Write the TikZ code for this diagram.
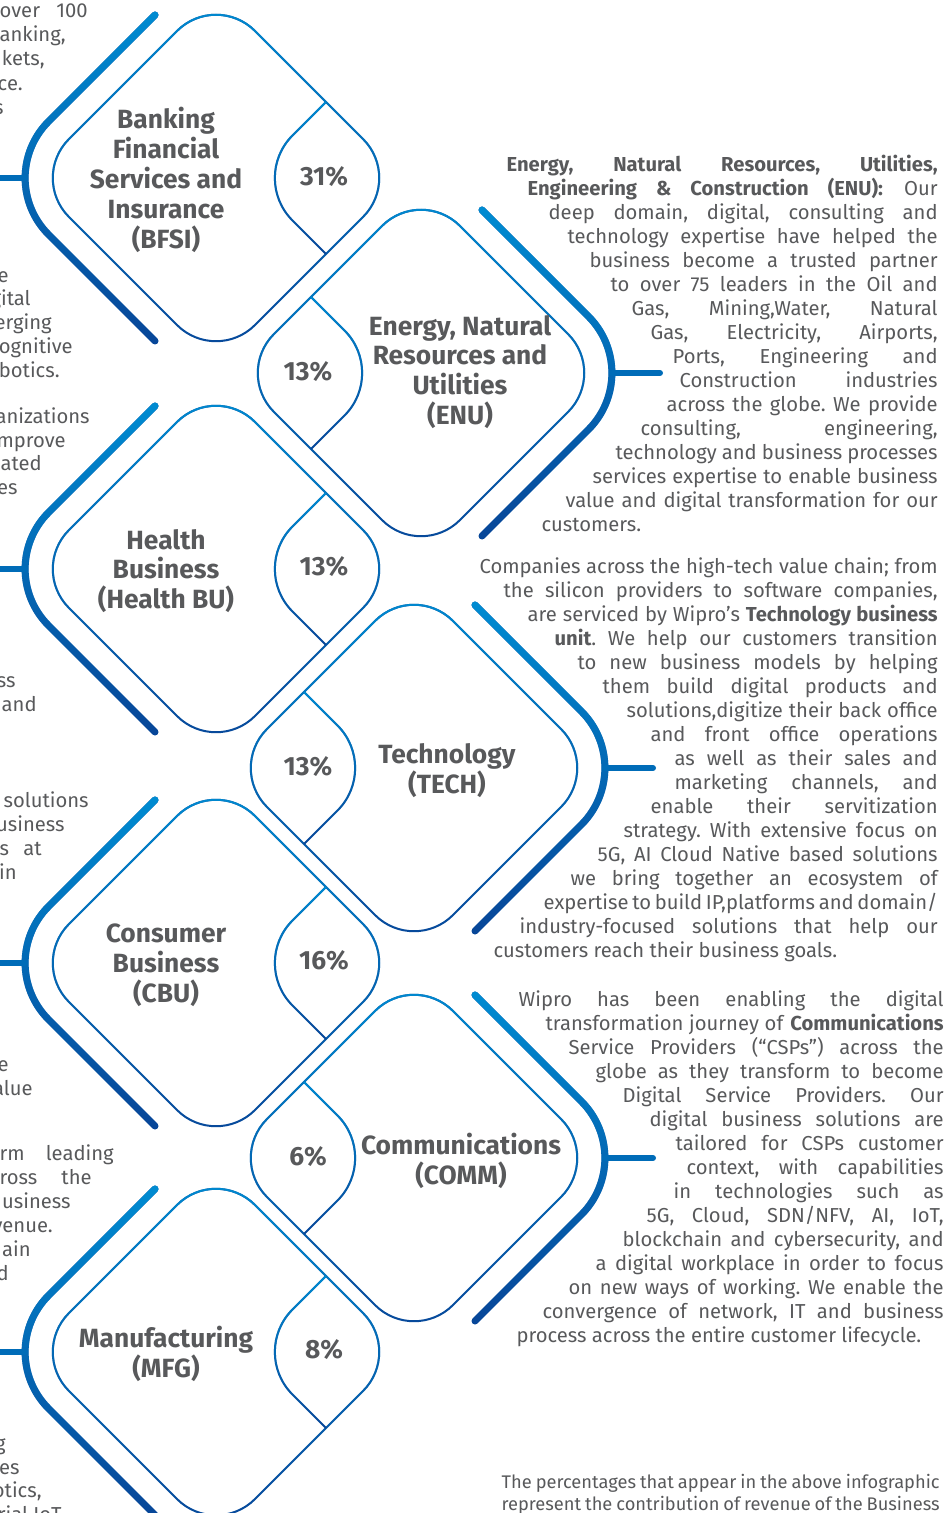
\documentclass[tikz,border=0pt]{standalone}
\usepackage{fontspec}
\setmainfont{Fira Sans}
\usetikzlibrary{fadings}
\definecolor{lt}{RGB}{0,140,210}
\definecolor{dk}{RGB}{8,70,152}
\definecolor{md}{RGB}{0,108,184}
\definecolor{txt}{RGB}{88,89,91}
\tikzfading[name=topdown, top color=transparent!0, bottom color=transparent!100]
\newlength\pxu \setlength\pxu{0.02cm}
\frenchspacing

\begin{document}
\begin{tikzpicture}[x=0.02cm,y=-0.02cm,
  blu/.style = {draw=dk, postaction={draw=lt, path fading=topdown}},
  diam/.style = {blu, line width=0.04cm, rounded corners=1.1cm},
  lens/.style = {blu, line width=0.04cm, rounded corners=1.2cm},
  brack/.style = {blu, line width=0.14cm, line cap=round, rounded corners=1.6cm},
  stub/.style = {draw=md, line width=0.12cm, line cap=round},
  unitname/.style = {text=txt, align=center, inner sep=0pt,
    font={\bfseries\fontsize{15pt}{17pt}\selectfont}},
  para/.style = {text=txt, inner sep=0pt, anchor=base east,
    font={\fontsize{11.5pt}{13.6pt}\selectfont}}]
   \useasboundingbox (0,0) rectangle (945,1513);
   \clip (0,0) rectangle (945,1513);
   % left column
   \foreach \cx/\cy in {216/178, 216/569, 216/963, 216/1352} {
     \draw[diam] (\cx-93,\cy-93) -- (\cx,\cy-186) -- (\cx+186,\cy)
                 -- (\cx,\cy+186) -- (\cx-186,\cy) -- cycle;
     \draw[lens] (\cx+110,\cy-76) -- (\cx+34,\cy) -- (\cx+110,\cy+76);
     \draw[brack] (\cx-61,\cy-163) -- (\cx-224,\cy) -- (\cx-61,\cy+163);
     \draw[stub] (\cx-191,\cy) -- (\cx-250,\cy);
   }
   % right column
   \foreach \cx/\cy in {421/373, 414/768, 414/1158} {
     \draw[diam] (\cx-93,\cy-93) -- (\cx,\cy-186) -- (\cx+186,\cy)
                 -- (\cx,\cy+186) -- (\cx-186,\cy) -- cycle;
     \draw[lens] (\cx-110,\cy-76) -- (\cx-34,\cy) -- (\cx-110,\cy+76);
     \draw[brack] (\cx+61,\cy-163) -- (\cx+224,\cy) -- (\cx+61,\cy+163);
     \draw[stub] (\cx+191,\cy) -- (\cx+239,\cy);
   }
   % unit names and shares
   \node[unitname] (bfsi) at (166,180) {Banking\\Financial\\Services and\\Insurance\\(BFSI)};
   \node[unitname] (enu) at (460,372) {Energy, Natural\\Resources and\\Utilities\\(ENU)};
   \node[unitname] (health) at (166,571) {Health\\Business\\(Health BU)};
   \node[unitname] (tech) at (447,771) {Technology\\(TECH)};
   \node[unitname] (cbu) at (166,965) {Consumer\\Business\\(CBU)};
   \node[unitname] (comm) at (461,1161) {Communications\\(COMM)};
   \node[unitname] (mfg) at (166,1354) {Manufacturing\\(MFG)};
   \node[unitname] (bfsipct) at (324,177) {31\%};
   \node[unitname] (enupct) at (308,372) {13\%};
   \node[unitname] (healthpct) at (324,567) {13\%};
   \node[unitname] (techpct) at (308,767) {13\%};
   \node[unitname] (cbupct) at (324,961) {16\%};
   \node[unitname] (commpct) at (308,1157) {6\%};
   \node[unitname] (mfgpct) at (324,1350) {8\%};
   % ENU text
   \foreach \bw/\words [count=\k] in {
     431/{\textbf{Energy, Natural Resources, Utilities,}},
     410/{\textbf{Engineering \& Construction (ENU):} Our},
     389/{deep domain, digital, consulting and},
     370/{technology expertise have helped the},
     348/{business become a trusted partner},
     327/{to over 75 leaders in the Oil and},
     306/{Gas, Mining,Water, Natural},
     287/{Gas, Electricity, Airports,},
     265/{Ports, Engineering and},
     258/{Construction industries},
     271/{across the globe. We provide},
     297/{consulting, engineering,},
     322/{technology and business processes},
     345/{services expertise to enable business},
     372/{value and digital transformation for our},
     396/{customers.\hfill}}
     \node[para] (enu\k) at (938,{171.5+24*(\k-1)}) {\makebox[\bw\pxu][s]{\words}};
   % TECH text
   \foreach \bw/\words [count=\k] in {
     458/{Companies across the high-tech value chain; from},
     434/{the silicon providers to software companies,},
     410/{are serviced by Wipro’s \textbf{Technology business}},
     383/{\textbf{unit}. We help our customers transition},
     360/{to new business models by helping},
     335/{them build digital products and},
     311/{solutions,digitize their back office},
     287/{and front office operations},
     263/{as well as their sales and},
     263/{marketing channels, and},
     287/{enable their servitization},
     314/{strategy. With extensive focus on},
     340/{5G, AI Cloud Native based solutions},
     367/{we bring together an ecosystem of},
     394/{expertise to build IP,platforms and domain/},
     418/{industry-focused solutions that help our},
     444/{customers reach their business goals.\hfill}}
     \node[para] (tech\k) at (938,{573.3+24*(\k-1)}) {\makebox[\bw\pxu][s]{\words}};
   % COMM text
   \foreach \bw/\words [count=\k] in {
     425/{Wipro has been enabling the digital},
     398/{transformation journey of \textbf{Communications}},
     375/{Service Providers (“CSPs”) across the},
     348/{globe as they transform to become},
     321/{Digital Service Providers. Our},
     294/{digital business solutions are},
     268/{tailored for CSPs customer},
     257/{context, with capabilities},
     270/{in technologies such as},
     297/{5G, Cloud, SDN/NFV, AI, IoT,},
     321/{blockchain and cybersecurity, and},
     348/{a digital workplace in order to focus},
     375/{on new ways of working. We enable the},
     401/{convergence of network, IT and business},
     427/{process across the entire customer lifecycle.\hfill}}
     \node[para] (comm\k) at (944,{1006.7+24*(\k-1)}) {\makebox[\bw\pxu][s]{\words}};
   % cut-off text on the left edge
   \foreach \r/\y/\words [count=\k] in {
     88/10/{\makebox[88\pxu][s]{over 100}}, 66/34/{anking,}, 45/58/{kets,},
     23/83/{ce.}, 4/107/{s}, 9/275/{e}, 31/298/{gital}, 52/322/{erging},
     73/346/{ognitive}, 60/370/{botics.}, 90/416/{anizations}, 66/440/{mprove},
     42/463/{cated}, 18/487/{es}, 16/680/{ss}, 37/704/{and},
     89/800/{solutions}, 65/824/{usiness}, 42/848/{\makebox[42\pxu][s]{s at}},
     17/872/{in}, 9/1064/{e}, 33/1088/{alue},
     114/1153/{\makebox[114\pxu][s]{rm leading}},
     92/1177/{\makebox[92\pxu][s]{ross the}}, 71/1201/{usiness},
     53/1225/{venue.}, 31/1249/{ain}, 9/1273/{d}, 6/1443/{g}, 20/1467/{es},
     42/1490/{otics,}, 62/1514/{rial IoT}}
     \node[para] (edge\k) at (\r,{\y+7.5}) {\words};
   % note
   \node[para, font={\fontsize{10.4pt}{12.5pt}\selectfont}] (note1) at (940,1488)
     {\makebox[438\pxu][s]{The percentages that appear in the above infographic}};
   \node[para, font={\fontsize{10.4pt}{12.5pt}\selectfont}] (note2) at (940,1510)
     {\makebox[438\pxu][s]{represent the contribution of revenue of the Business}};
\end{tikzpicture}
\end{document}
